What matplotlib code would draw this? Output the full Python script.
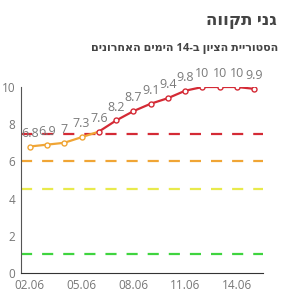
import matplotlib.pyplot as plt

dates = ["02.06", "03.06", "04.06", "05.06", "06.06", "07.06", "08.06",
         "09.06", "10.06", "11.06", "12.06", "13.06", "14.06", "15.06"]
scores = [6.8, 6.9, 7, 7.3, 7.6, 8.2, 8.7, 9.1, 9.4, 9.8, 10, 10, 10, 9.9]
thresholds = [7.5, 6, 4.5, 1]
threshold_colors = ["#d42a35", "#f0a535", "#e8ea4c", "#3fd43f"]

title = "גני תקווה"
subtitle = "הסטוריית הציון ב-14 הימים האחרונים"
# matplotlib has no bidi support, so lay the Hebrew out in visual order
title_vis = title[::-1]
subtitle_vis = "םינורחאה םימיה 14-ב ןויצה תיירוטסה"

plt.rcParams["font.family"] = ["Open Sans", "DejaVu Sans"]

fig = plt.figure(figsize=(2.91, 3.0), dpi=100)
ax = fig.add_axes([21 / 291, 27 / 300, 242 / 291, 186 / 300])

x = list(range(len(scores)))
for t, c in zip(thresholds, threshold_colors):
    ax.axhline(t, color=c, lw=1.6, dashes=(5, 4.5), zorder=1)

for i in range(len(scores) - 1):
    c = "#d42a35" if scores[i] >= 7.5 else "#f0a535"
    ax.plot(x[i:i + 2], scores[i:i + 2], color=c, lw=1.6, zorder=2,
            solid_capstyle="round")
for i, v in enumerate(scores):
    c = "#d42a35" if v >= 7.5 else "#f0a535"
    ax.plot(x[i], v, "o", ms=3.6, mfc="white", mec=c, mew=1, zorder=3)
    ax.annotate(f"{v:g}", (x[i], v), xytext=(0, 5), textcoords="offset points",
                ha="center", va="bottom", fontsize=9, color="#7a7a7a",
                annotation_clip=False)

ax.set_xlim(-0.5, 13.5)
ax.set_ylim(0, 10)
ax.set_yticks([0, 2, 4, 6, 8, 10])
ax.set_xticks(x[::3])
ax.set_xticklabels(dates[::3])
ax.tick_params(length=0, labelsize=8.5, labelcolor="#777777", pad=4)
ax.spines["top"].set_visible(False)
ax.spines["right"].set_visible(False)
ax.spines["left"].set_color("#555555")
ax.spines["bottom"].set_color("#333333")

fig.text(277 / 291, 1 - 20 / 300, title_vis, ha="right", va="center",
         fontsize=12, fontweight="bold", color="#444444")
fig.text(278 / 291, 1 - 49 / 300, subtitle_vis, ha="right", va="center",
         fontsize=8, fontweight="bold", color="#444444")

plt.savefig("out.png", dpi=100)
